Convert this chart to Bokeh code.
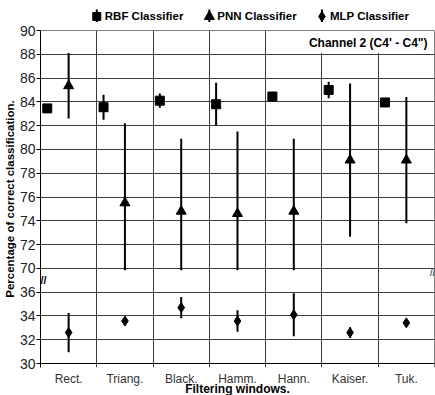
from bokeh.plotting import figure
from bokeh.models import ColumnDataSource, FixedTicker, Label, BoxAnnotation, Range1d, Span
from bokeh.layouts import column
from bokeh.core.properties import value
from bokeh.embed import file_html
from bokeh.resources import INLINE

# ---------------- data ----------------
windows = ["Rect.", "Triang.", "Black.", "Hamm.", "Hann.", "Kaiser.", "Tuk."]
rbf_mean = [83.45, 83.55, 84.1, 83.8, 84.45, 85.0, 83.95]
rbf_err = [0.3, 1.05, 0.6, 1.8, 0.3, 0.7, 0.3]
pnn_mean = [85.35, 75.5, 74.8, 74.6, 74.8, 79.1, 79.1]
pnn_err = [2.75, 6.7, 6.1, 6.9, 6.1, 6.45, 5.3]
mlp_mean = [32.6, 33.57, 34.7, 33.57, 34.1, 32.6, 33.42]
mlp_err = [1.65, 0.2, 0.9, 0.9, 1.8, 0.45, 0.15]
low_ticks = [30, 32, 34, 36]
high_ticks = [70, 72, 74, 76, 78, 80, 82, 84, 86, 88, 90]
series_names = ["RBF Classifier", "PNN Classifier", "MLP Classifier"]
channel_label = "Channel 2 (C4' - C4\")"
x_title = "Filtering windows."
y_title = "Percentage of correct classification."

# ---------------- style ----------------
FONT = "Liberation Sans"
GRID = "#3c3c3c"
RBF_SHIFT = -0.38
BREAK_CLIP = 69.85
AXIS_EXT = 0.336      # frame reaches a few px under the x axis so the boundary lines form ticks
W = 435
LEG_H = 22
BOT_H = 24
MAIN_H = 395 - LEG_H - BOT_H

shift = high_ticks[0] - 2 - low_ticks[-1]  # bottom segment is moved up under the break
n = len(windows)
centers = [i + 0.5 for i in range(n)]
bounds = list(range(n + 1))
y_bottom = low_ticks[0] + shift

p = figure(width=W, height=MAIN_H, x_range=Range1d(0, n),
           y_range=Range1d(y_bottom - AXIS_EXT, high_ticks[-1]),
           toolbar_location=None, output_backend="svg",
           min_border_left=0, min_border_right=1, min_border_top=8, min_border_bottom=4)
p.background_fill_color = "white"
p.border_fill_color = "white"
p.outline_line_color = None

xt = FixedTicker(ticks=centers, minor_ticks=bounds)
p.xaxis.ticker = xt
p.xgrid.ticker = xt
p.xaxis.visible = False
p.xgrid.grid_line_color = None
p.xgrid.minor_grid_line_color = GRID
p.xgrid.minor_grid_line_width = 1

yticks = [t + shift for t in low_ticks] + high_ticks
ylabels = [str(t) for t in low_ticks + high_ticks]
yt = FixedTicker(ticks=yticks)
p.yaxis.ticker = yt
p.ygrid.ticker = yt
p.yaxis.major_label_overrides = {t: l for t, l in zip(yticks, ylabels)}
p.yaxis.major_tick_out = 4
p.yaxis.major_tick_in = 0
p.yaxis.minor_tick_line_color = None
p.yaxis.axis_line_color = "black"
p.yaxis.major_tick_line_color = "black"
p.yaxis.major_label_text_font = FONT
p.yaxis.major_label_text_font_size = "14px"
p.yaxis.major_label_text_color = "#222222"
p.yaxis.major_label_standoff = 1
p.yaxis.axis_label = y_title
p.yaxis.axis_label_text_font = FONT
p.yaxis.axis_label_text_font_style = "bold"
p.yaxis.axis_label_text_font_size = "11.5px"
p.yaxis.axis_label_text_color = "black"
p.yaxis.axis_label_standoff = 1
p.ygrid.grid_line_color = GRID
p.ygrid.grid_line_width = 1

# frame lines: x axis, top and right edges
p.add_layout(Span(location=y_bottom, dimension="width", line_color="black", line_width=1))
p.add_layout(Span(location=high_ticks[-1], dimension="width", line_color="black", line_width=1))
p.add_layout(Span(location=n, dimension="height", line_color="black", line_width=1))

# white patch behind the channel label
p.add_layout(BoxAnnotation(left=4.05, right=6.98, bottom=88.1, top=89.95,
                           fill_color="white", fill_alpha=1.0, line_color=None))
p.add_layout(Label(x=n, y=high_ticks[-1], x_offset=-7, y_offset=-12, text=channel_label,
                   text_align="right", text_baseline="middle", text_font=FONT,
                   text_font_style="bold", text_font_size="12px", text_color="black"))

# axis break marks
brk_y = (high_ticks[0] + low_ticks[-1] + shift) / 2
p.add_layout(Label(x=0, y=brk_y, x_offset=3, text="//", text_align="center",
                   text_baseline="middle", text_font=FONT, text_font_size="11px",
                   text_font_style="bold", text_color="black"))
p.add_layout(Label(x=n, y=brk_y + 0.6, x_offset=-2, text="//", text_align="center",
                   text_baseline="middle", text_font=FONT, text_font_size="9px",
                   text_color="black"))

# series
rbf = ColumnDataSource(dict(
    x=[c + RBF_SHIFT for c in centers], y=rbf_mean,
    lo=[m - e for m, e in zip(rbf_mean, rbf_err)],
    hi=[m + e for m, e in zip(rbf_mean, rbf_err)]))
pnn = ColumnDataSource(dict(
    x=centers, y=pnn_mean,
    lo=[max(m - e, BREAK_CLIP) for m, e in zip(pnn_mean, pnn_err)],
    hi=[m + e for m, e in zip(pnn_mean, pnn_err)]))
mlp = ColumnDataSource(dict(
    x=centers, y=[m + shift for m in mlp_mean],
    lo=[m - e + shift for m, e in zip(mlp_mean, mlp_err)],
    hi=[m + e + shift for m, e in zip(mlp_mean, mlp_err)]))

for src, mk, sz in [(rbf, "square", 9), (pnn, "triangle", 10), (mlp, "diamond", 10)]:
    p.segment(x0="x", y0="lo", x1="x", y1="hi", source=src, line_color="black", line_width=2)
    p.scatter("x", "y", source=src, marker=mk, size=sz, fill_color="black", line_color="black")


def strip(h):
    f = figure(width=W, height=h, x_range=p.x_range, y_range=Range1d(0, h),
               toolbar_location=None, output_backend="svg", min_border=0, min_border_right=1,
               x_axis_type=None, y_axis_type=None)
    f.outline_line_color = None
    f.background_fill_color = "white"
    f.border_fill_color = "white"
    return f


# ---------------- legend strip (shares the x axis of the chart) ----------------
leg = strip(LEG_H)
lx = bounds[1::2][:len(series_names)]
lsrc = ColumnDataSource(dict(x=lx, y=[6] * 3, y0=[0] * 3, y1=[13] * 3, ty=[7] * 3,
                             name=series_names,
                             mk=["square", "triangle", "diamond"], sz=[8, 10, 10]))
leg.segment(x0="x", y0="y0", x1="x", y1="y1", source=lsrc, line_color="black", line_width=2)
leg.scatter("x", "y", source=lsrc, marker="mk", size="sz", fill_color="black", line_color="black")
leg.text("x", "ty", text="name", source=lsrc, x_offset=8, text_font=value(FONT),
         text_font_style="bold", text_font_size="11.5px", text_baseline="middle",
         text_align="left", text_color="black")

# ---------------- category names and axis title strip ----------------
bot = strip(BOT_H)
bot.text(x=centers, y=[17] * n, text=windows, text_font=value(FONT),
         text_font_size="12px", text_baseline="middle", text_align="center",
         text_color="#333333")
bot.text(x=[n / 2], y=[7], text=[x_title], text_font=value(FONT),
         text_font_style="bold", text_font_size="12px", text_baseline="middle",
         text_align="center", text_color="black")

layout = column(leg, p, bot, spacing=0)
open("out.html", "w").write(file_html(layout, INLINE))
